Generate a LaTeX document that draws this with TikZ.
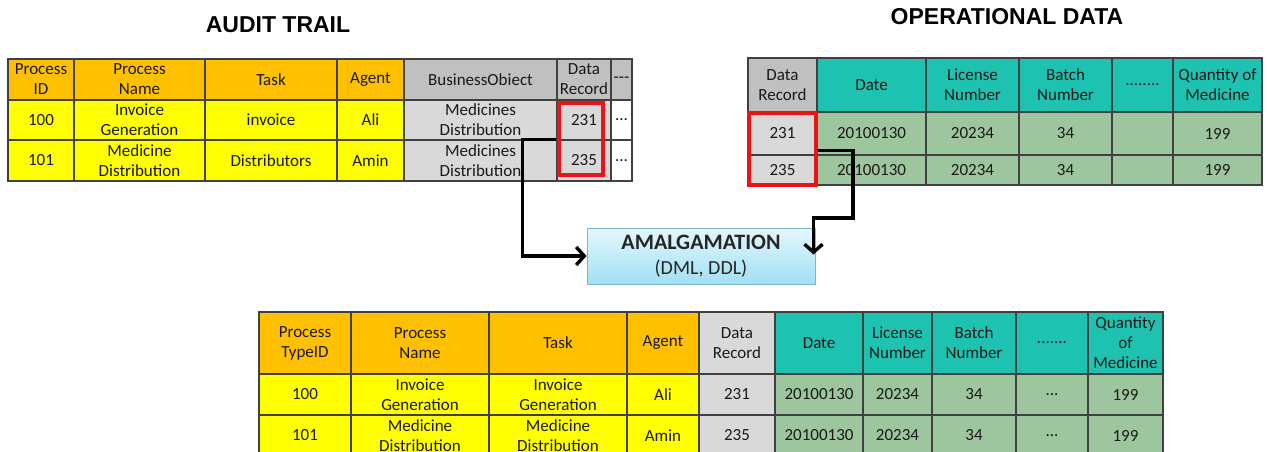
\documentclass[tikz,border=0pt]{standalone}
\usepackage{fontspec}
\setmainfont{Carlito}
\newfontfamily\titlefont{Liberation Sans}
\usetikzlibrary{arrows.meta}

\definecolor{hdorange}{RGB}{255,192,0}
\definecolor{rowyellow}{RGB}{255,255,0}
\definecolor{hdgrey}{RGB}{192,192,192}
\definecolor{rowgrey}{RGB}{217,217,217}
\definecolor{hdteal}{RGB}{29,194,176}
\definecolor{rowgreen}{RGB}{158,198,158}
\definecolor{amaltop}{RGB}{228,247,253}
\definecolor{amalbot}{RGB}{160,224,245}
\definecolor{amalline}{RGB}{125,180,200}
\definecolor{recred}{RGB}{235,20,20}

\newcommand{\ellip}{...}
% one table cell: name, x1, y1, x2, y2, options, text
\newcommand{\tcell}[7]{%
  \pgfmathsetmacro\cellw{#4-#2}\pgfmathsetmacro\cellh{#5-#3}%
  \node[cell,#6,minimum width=\cellw pt,minimum height=\cellh pt] (#1) at ({(#2+#4)/2},{(#3+#5)/2}) {#7};}

\begin{document}
\begin{tikzpicture}[x=1pt,y=-1pt,
    cell/.style={draw=black!75,line width=1.1pt,align=center,inner sep=0pt,
      text=black!90,font=\fontsize{17}{20}\selectfont},
    title/.style={font=\titlefont\bfseries\fontsize{23}{26}\selectfont},
    amal/.style={draw=amalline,line width=1pt,top color=amaltop,bottom color=amalbot,
      minimum width=228pt,minimum height=56pt,align=center,inner sep=0pt,
      text=black!85,font=\fontsize{20}{25}\selectfont},
    conn/.style={line width=3.4pt,-{Straight Barb[length=8pt,width=18pt]}},
    redbox/.style={draw=recred,line width=4pt}]
  \useasboundingbox (0,0) rectangle (1267,452);

  \node[title] (attitle) at (278,25) {AUDIT TRAIL};
  \node[title] (odtitle) at (1007,17) {OPERATIONAL DATA};

  % audit trail
  \foreach \xa/\xb/\hf/\rf/\ha/\ra/\rb [count=\i] in {
      8/74/hdorange/rowyellow/{Process\\ID}/100/101,
      74/205/hdorange/rowyellow/{Process\\Name}/{Invoice\\Generation}/{Medicine\\Distribution},
      205/337/hdorange/rowyellow/Task/invoice/Distributors,
      337/404/hdorange/rowyellow/Agent/Ali/Amin,
      404/557/hdgrey/rowgrey/BusinessObiect/{Medicines\\Distribution}/{Medicines\\Distribution},
      557/611/hdgrey/rowgrey/{Data\\Record}/231/235,
      611/632/hdgrey/white/{-{}-{}-}/\ellip/\ellip}
  {
    \tcell{ath\i}{\xa}{59}{\xb}{100}{fill=\hf}{\ha}
    \tcell{atr\i}{\xa}{100}{\xb}{140}{fill=\rf}{\ra}
    \tcell{ats\i}{\xa}{140}{\xb}{181}{fill=\rf}{\rb}
  }

  % operational data
  \foreach \xa/\xb/\hf/\rf/\ha/\ra/\rb [count=\i] in {
      748/817/hdgrey/rowgrey/{Data\\Record}/231/235,
      817/926/hdteal/rowgreen/Date/20100130/20100130,
      926/1019/hdteal/rowgreen/{License\\Number}/20234/20234,
      1019/1112/hdteal/rowgreen/{Batch\\Number}/34/34,
      1112/1173/hdteal/rowgreen/{........}/{}/{},
      1173/1262/hdteal/rowgreen/{Quantity of\\Medicine}/199/199}
  {
    \tcell{odh\i}{\xa}{58}{\xb}{112}{fill=\hf}{\ha}
    \tcell{odr\i}{\xa}{112}{\xb}{155}{fill=\rf}{\ra}
    \tcell{ods\i}{\xa}{155}{\xb}{185}{fill=\rf}{\rb}
  }

  % merged table
  \foreach \xa/\xb/\hf/\rf/\ha/\ra/\rb [count=\i] in {
      259/351/hdorange/rowyellow/{Process\\TypeID}/100/101,
      351/489/hdorange/rowyellow/{Process\\Name}/{Invoice\\Generation}/{Medicine\\Distribution},
      489/627/hdorange/rowyellow/Task/{Invoice\\Generation}/{Medicine\\Distribution},
      627/699/hdorange/rowyellow/Agent/Ali/Amin,
      699/775/rowgrey/rowgrey/{Data\\Record}/231/235,
      775/863/hdteal/rowgreen/Date/20100130/20100130,
      863/932/hdteal/rowgreen/{License\\Number}/20234/20234,
      932/1016/hdteal/rowgreen/{Batch\\Number}/34/34,
      1016/1088/hdteal/rowgreen/{.......}/\ellip/\ellip,
      1088/1163/hdteal/rowgreen/{Quantity\\of\\Medicine}/199/199}
  {
    \tcell{mgh\i}{\xa}{312}{\xb}{374}{fill=\hf}{\ha}
    \tcell{mgr\i}{\xa}{374}{\xb}{415}{fill=\rf}{\ra}
    \tcell{mgs\i}{\xa}{415}{\xb}{456}{fill=\rf}{\rb}
  }

  \node[amal] (amal) at (701,256)
    {\textbf{\fontsize{22}{25}\selectfont AMALGAMATION}\\(DML, DDL)};

  % record boxes
  \draw[redbox] ([xshift=3pt,yshift=-4pt]atr6.north west) rectangle ([xshift=-9pt,yshift=7pt]ats6.south east);
  \draw[redbox] ([xshift=2pt,yshift=-2pt]odr1.north west) rectangle ([xshift=-2pt,yshift=1pt]ods1.south east);

  % links
  \coordinate (odbend) at (853,218);
  \draw[conn] ([yshift=1pt]atr6.south west) -- ++(-34,0) |- (amal.west);
  \draw[conn] ([yshift=4pt]ods1.north east) -| (odbend) -| ([xshift=-2pt,yshift=-27pt]amal.north east);
\end{tikzpicture}
\end{document}
